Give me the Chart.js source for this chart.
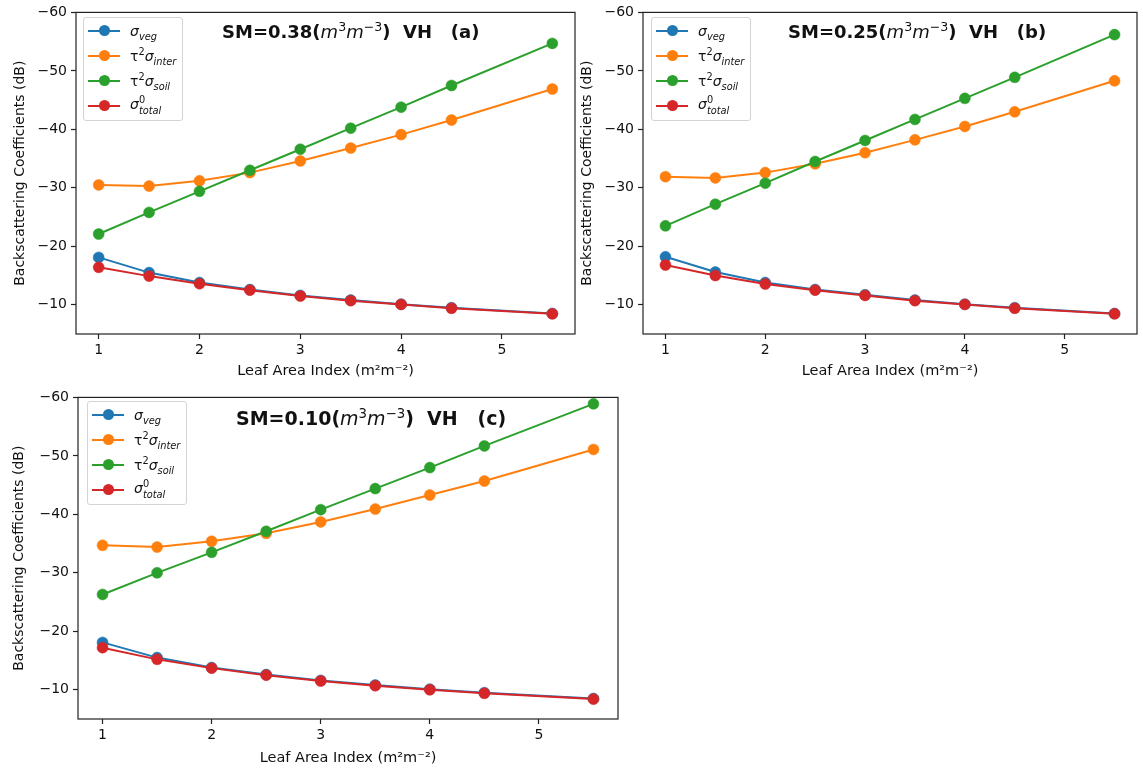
<!DOCTYPE html>
<html>
<head>
<meta charset="utf-8">
<script src="https://cdn.jsdelivr.net/npm/chart.js@4.4.1/dist/chart.umd.min.js"></script>
<style>
body { margin: 0; background: #fff; font-family: "DejaVu Sans", sans-serif; }
#fig { position: relative; width: 1143px; height: 772px; overflow: hidden; }
.panel { position: absolute; }
.panel canvas { position: absolute; left: 0; top: 0; }
.leg { position: absolute; border: 1px solid #d4d4d4; border-radius: 3px; background: rgba(255,255,255,0.8);
       padding: 0 6px 2px 4px; font-size: 14px; color: #111; }
.row { height: 25px; display: flex; align-items: center; white-space: nowrap; }
.sw { position: relative; width: 32px; height: 12px; margin-right: 10px; flex: none; }
.sw .ln { position: absolute; left: 0; right: 0; top: 5px; height: 2px; }
.sw .dt { position: absolute; left: 10.5px; top: 0.5px; width: 11px; height: 11px; border-radius: 50%; }
.m { font-style: italic; }
sub, sup { font-size: 70%; line-height: 0; }
.stack { display: inline-flex; flex-direction: column; vertical-align: middle; font-size: 70%; line-height: 1.05; }
.note { position: absolute; font-size: 18px; line-height: 22px; font-weight: bold; white-space: nowrap; color: #111; }
.note i, .note sup { font-weight: normal; }
</style>
</head>
<body>
<div id="fig"></div>
<script>
// leaf area index samples (no point at 5)
const laiValues = [1, 1.5, 2, 2.5, 3, 3.5, 4, 4.5, 5.5];
const xTicks = [1, 2, 3, 4, 5];
const yTicks = [-60, -50, -40, -30, -20, -10];

// (a) SM = 0.38
const vegA   = [-18.1, -15.5, -13.8, -12.6, -11.6, -10.8, -10.1, -9.5, -8.5];
const interA = [-30.5, -30.3, -31.2, -32.6, -34.6, -36.8, -39.1, -41.6, -46.9];
const soilA  = [-22.1, -25.8, -29.4, -33.0, -36.6, -40.2, -43.8, -47.5, -54.7];
const totalA = [-16.4, -14.9, -13.6, -12.5, -11.5, -10.7, -10.05, -9.4, -8.45];

// (b) SM = 0.25
const vegB   = [-18.2, -15.6, -13.8, -12.6, -11.7, -10.8, -10.1, -9.5, -8.5];
const interB = [-31.9, -31.7, -32.6, -34.1, -36.0, -38.2, -40.5, -43.0, -48.3];
const soilB  = [-23.5, -27.2, -30.8, -34.5, -38.1, -41.7, -45.3, -48.9, -56.2];
const totalB = [-16.8, -15.0, -13.55, -12.5, -11.6, -10.7, -10.05, -9.4, -8.45];

// (c) SM = 0.10
const vegC   = [-18.1, -15.5, -13.8, -12.6, -11.6, -10.8, -10.1, -9.5, -8.5];
const interC = [-34.7, -34.4, -35.4, -36.75, -38.7, -40.9, -43.3, -45.7, -51.1];
const soilC  = [-26.3, -30.0, -33.5, -37.1, -40.8, -44.4, -48.0, -51.7, -58.9];
const totalC = [-17.2, -15.2, -13.7, -12.5, -11.5, -10.7, -10.0, -9.4, -8.4];

const colors = ['#1f77b4', '#ff7f0e', '#2ca02c', '#d62728'];
const legendHtml = [
  '<span class="m">σ</span><sub class="m">veg</sub>',
  'τ<sup>2</sup><span class="m">σ</span><sub class="m">inter</sub>',
  'τ<sup>2</sup><span class="m">σ</span><sub class="m">soil</sub>',
  '<span class="m">σ</span><span class="stack"><span>0</span><span class="m">total</span></span>'
];

const framePlugin = {
  id: 'frame',
  afterDatasetsDraw(chart) {
    const a = chart.chartArea, ctx = chart.ctx;
    ctx.save();
    ctx.strokeStyle = '#222';
    ctx.lineWidth = 1.2;
    ctx.strokeRect(a.left, a.top, a.right - a.left, a.bottom - a.top);
    ctx.restore();
  }
};

function pts(vals) {
  return laiValues.map((x, i) => ({x: x, y: vals[i]}));
}

function makePanel(p) {
  const fig = document.getElementById('fig');
  const div = document.createElement('div');
  div.className = 'panel';
  div.style.left = p.left + 'px';
  div.style.top = p.top + 'px';
  div.style.width = p.w + 'px';
  div.style.height = p.h + 'px';
  const cv = document.createElement('canvas');
  cv.width = p.w; cv.height = p.h;
  cv.style.width = p.w + 'px'; cv.style.height = p.h + 'px';
  div.appendChild(cv);
  fig.appendChild(div);

  const series = [p.veg, p.inter, p.soil, p.total];
  const datasets = series.map((s, i) => ({
    data: pts(s),
    borderColor: colors[i],
    backgroundColor: colors[i],
    pointBackgroundColor: colors[i],
    pointBorderColor: colors[i],
    borderWidth: 2,
    pointRadius: 5.5,
    pointBorderWidth: 0.5,
    pointHoverRadius: 5.5,
    tension: 0,
    order: 4 - i
  }));

  const tickFont = {family: 'DejaVu Sans', size: 14};
  const chart = new Chart(cv.getContext('2d'), {
    type: 'line',
    data: {datasets: datasets},
    options: {
      responsive: false,
      animation: false,
      devicePixelRatio: 1,
      layout: {padding: {left: 0, top: 9, right: p.padRight, bottom: 0}},
      plugins: {legend: {display: false}, tooltip: {enabled: false}},
      scales: {
        x: {
          type: 'linear', min: 0.775, max: 5.725,
          afterBuildTicks: s => { s.ticks = xTicks.map(v => ({value: v})); },
          afterFit: s => { s.height = p.xH; },
          grid: {drawOnChartArea: false, drawTicks: true, tickLength: 5, tickColor: '#222', tickWidth: 1.2},
          border: {display: false},
          ticks: {font: tickFont, color: '#111', padding: 3, maxRotation: 0, callback: v => String(v)},
          title: {display: true, text: 'Leaf Area Index (m²m⁻²)', font: {family: 'DejaVu Sans', size: 14.5},
                  color: '#111', padding: {top: 0, bottom: 5}}
        },
        y: {
          type: 'linear', min: -60, max: -5, reverse: true,
          afterBuildTicks: s => { s.ticks = yTicks.map(v => ({value: v})); },
          afterFit: s => { s.width = p.yW; },
          grid: {drawOnChartArea: false, drawTicks: true, tickLength: 5, tickColor: '#222', tickWidth: 1.2},
          border: {display: false},
          ticks: {font: tickFont, color: '#111', padding: 4,
                  callback: v => (v < 0 ? '\u2212' : '') + Math.abs(v)},
          title: {display: true, text: 'Backscattering Coefficients (dB)', font: tickFont, color: '#111',
                  padding: {top: p.yTitlePad, bottom: 0}}
        }
      }
    },
    plugins: [framePlugin]
  });

  // legend box in the upper left corner of the axes
  const leg = document.createElement('div');
  leg.className = 'leg';
  leg.style.left = p.legLeft + 'px';
  leg.style.top = p.legTop + 'px';
  leg.innerHTML = legendHtml.map((t, i) =>
    '<div class="row"><span class="sw"><span class="ln" style="background:' + colors[i] +
    '"></span><span class="dt" style="background:' + colors[i] + '"></span></span><span>' + t + '</span></div>'
  ).join('');
  div.appendChild(leg);

  const note = document.createElement('div');
  note.className = 'note';
  note.style.left = p.noteLeft + 'px';
  note.style.top = p.noteTop + 'px';
  if (p.noteSize) note.style.fontSize = p.noteSize + 'px';
  note.innerHTML = 'SM=' + p.sm + '(<i>m</i><sup>3</sup><i>m</i><sup>\u22123</sup>)&nbsp; VH &nbsp;&nbsp;(' + p.tag + ')';
  div.appendChild(note);
  return chart;
}

makePanel({left: 0, top: 0, w: 585, h: 385, padRight: 10, yW: 76, xH: 51, yTitlePad: 11.6,
  veg: vegA, inter: interA, soil: soilA, total: totalA,
  legLeft: 83, legTop: 17, noteLeft: 222, noteTop: 21, sm: '0.38', tag: 'a'});
makePanel({left: 567, top: 0, w: 576, h: 385, padRight: 1, yW: 76, xH: 51, yTitlePad: 11.6,
  veg: vegB, inter: interB, soil: soilB, total: totalB,
  legLeft: 84, legTop: 17, noteLeft: 221, noteTop: 21, sm: '0.25', tag: 'b'});
makePanel({left: 0, top: 385, w: 630, h: 387, padRight: 12, yW: 78, xH: 53, yTitlePad: 10.6,
  veg: vegC, inter: interC, soil: soilC, total: totalC,
  legLeft: 87, legTop: 16, noteLeft: 236, noteTop: 22, noteSize: 19, sm: '0.10', tag: 'c'});
</script>
</body>
</html>
